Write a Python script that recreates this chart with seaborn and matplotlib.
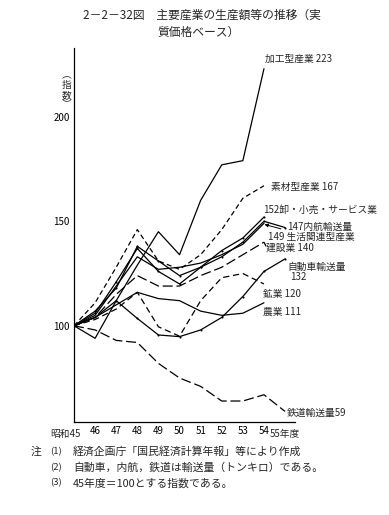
import numpy as np
import pandas as pd
import matplotlib
matplotlib.use("Agg")
import matplotlib.pyplot as plt
import seaborn as sns

# =====================================================
# DATA (昭和45年度 = 100)
# =====================================================
years = [45, 46, 47, 48, 49, 50, 51, 52, 53, 54]
years_tr = [45, 46, 47, 48, 49, 50, 51, 52, 53, 54, 55]

kakou = [100, 94, 112, 129, 145, 134, 160, 177, 179, 223]
sozai = [100, 111, 128, 146, 131, 127, 134, 146, 161, 167]
oroshi = [100, 107, 118, 138, 131, 124, 128, 136, 142, 152]
seikatsu = [100, 105, 119, 133, 127, 128, 130, 134, 139, 149]
kensetsu = [100, 104, 115, 124, 119, 119, 124, 128, 134, 140]
kougyou = [100, 103, 108, 116, 99.5, 95, 112, 123, 125, 120]
nougyou = [100, 104, 110, 116, 113, 112, 107, 105, 106, 111]

naikou = [100, 106, 121, 137, 126, 120, 128, 133, 140, 150, 147]
jidousha = [100, 104, 112, 103.5, 95.6, 94.8, 98, 104, 114, 126, 132]
tetsudou = [100, 98, 93, 92, 82, 75, 71, 64, 64, 67, 59]

xtick_labels = ["昭和45", "46", "47", "48", "49", "50", "51", "52", "53", "54", "55年度"]

# =====================================================
# STYLE
# =====================================================
sns.set_style("white")
plt.rcParams["font.family"] = ["Noto Sans CJK JP", "DejaVu Sans"]

fig = plt.figure(figsize=(3.89, 5.15), dpi=100)
ax = fig.add_axes([74 / 389, 1 - 421.7 / 515, (295 - 74) / 389, (421.7 - 48) / 515])

lw = 0.9
short_dash = (0, (4, 2.5))
long_dash = (0, (8, 3))

series = [
    (years, kakou, "-", None),
    (years, sozai, short_dash, None),
    (years, oroshi, "-", "."),
    (years, seikatsu, "-", None),
    (years, kensetsu, long_dash, None),
    (years, kougyou, (0, (5, 3)), None),
    (years, nougyou, "-", None),
    (years_tr, naikou, "-", "."),
    (years_tr, jidousha, "-", "."),
    (years_tr, tetsudou, long_dash, None),
]

for xs, ys, ls, mk in series:
    sns.lineplot(x=xs, y=ys, ax=ax, color="black", linewidth=lw,
                 linestyle=ls, marker=mk, markersize=3, markeredgewidth=0)

# =====================================================
# AXES
# =====================================================
ax.set_xlim(45, 55.47)
ax.set_ylim(54.1, 232.9)
for s in ["top", "right"]:
    ax.spines[s].set_visible(False)
for s in ["left", "bottom"]:
    ax.spines[s].set_linewidth(0.9)
    ax.spines[s].set_color("black")

ax.set_yticks(np.arange(60, 230, 10))
ax.set_yticklabels([str(v) if v in (100, 150, 200) else "" for v in range(60, 230, 10)])
ax.set_xticks(years_tr)
ax.set_xticklabels([""] + xtick_labels[1:-1] + [""])
ax.tick_params(axis="both", direction="in", length=3, width=0.8, labelsize=7, pad=3,
               colors="black")
ax.text(45.3, 54.1 - 3.5, xtick_labels[0], ha="right", va="top", fontsize=7)
ax.text(55, 54.1 - 3.5, xtick_labels[-1], ha="center", va="top", fontsize=7)

fig.text(67 / 389, 1 - 90 / 515, "︵\n指\n数\n︶", ha="center", va="center",
         fontsize=7, linespacing=0.95)

# =====================================================
# SERIES LABELS
# =====================================================
fs = 7
ax.text(54.05, 227.6, "加工型産業 223", fontsize=fs, va="center")
ax.text(54.35, 166.5, "素材型産業 167", fontsize=fs, va="center")
ax.text(53.95, 155.4, "152卸・小売・サービス業", fontsize=fs, va="center")
ax.text(55.1, 147.2, "147内航輸送量", fontsize=fs, va="center")
ax.annotate("149 生活関連型産業", xy=(54.02, 148.5), xytext=(54.2, 142.4),
            fontsize=fs, va="center",
            arrowprops=dict(arrowstyle="-|>", color="black", lw=0.7,
                            mutation_scale=5, shrinkA=0, shrinkB=0))
ax.plot([54, 54.1], [140, 138], color="black", lw=lw, linestyle=long_dash)
ax.text(54.1, 137.3, "建設業 140", fontsize=fs, va="center")
ax.text(55.1, 128.1, "自動車輸送量", fontsize=fs, va="center")
ax.text(55.25, 123.3, "132", fontsize=fs, va="center")
ax.text(53.96, 115.2, "鉱業 120", fontsize=fs, va="center")
ax.text(53.96, 106.6, "農業 111", fontsize=fs, va="center")
ax.text(55.1, 58.2, "鉄道輸送量59", fontsize=fs, va="center")

# =====================================================
# TITLE & NOTES
# =====================================================
fig.text(83 / 389, 1 - 15 / 515, "2－2－32図　主要産業の生産額等の推移（実",
         fontsize=8.5, ha="left", va="center")
fig.text(157 / 389, 1 - 32 / 515, "質価格ベース）", fontsize=8.5, ha="left", va="center")

nfs = 7.8
fig.text(31 / 389, 1 - 452 / 515, "注", fontsize=nfs, va="center")
notes = [
    ("(1)", "経済企画庁「国民経済計算年報」等により作成", 452),
    ("(2)", "自動車，内航，鉄道は輸送量（トンキロ）である。", 468),
    ("(3)", "45年度＝100とする指数である。", 483),
]
for num, txt, py in notes:
    fig.text(50 / 389, 1 - py / 515, num, fontsize=nfs - 1, va="center")
    fig.text(73 / 389, 1 - py / 515, txt, fontsize=nfs, va="center")

fig.savefig("out.png", dpi=100)
